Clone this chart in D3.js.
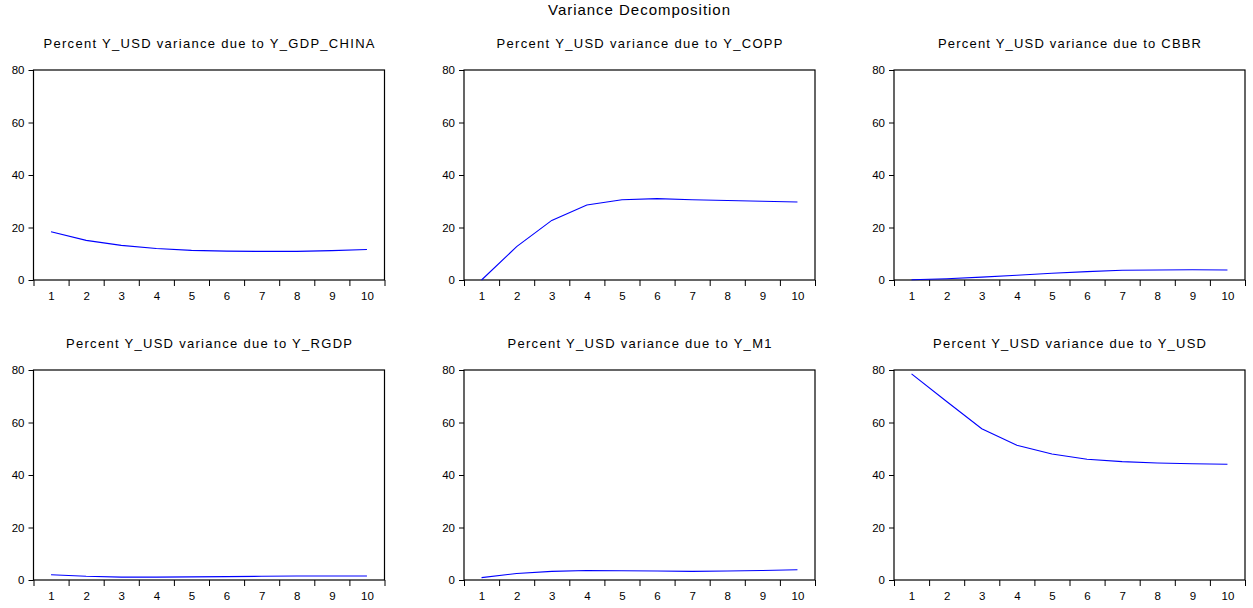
<!DOCTYPE html>
<html>
<head>
<meta charset="utf-8">
<script src="https://cdn.jsdelivr.net/npm/d3@7"></script>
<style>
  html, body { margin: 0; padding: 0; background: #fff; }
  svg { display: block; font-family: Arial, "Liberation Sans", sans-serif; }
</style>
</head>
<body>
<svg id="chart" width="1253" height="608"></svg>
<script>
// ---- data ----
const chartTitle = "Variance Decomposition";
const periods = [1, 2, 3, 4, 5, 6, 7, 8, 9, 10];
const yTicks = [0, 20, 40, 60, 80];
const panelTitles = [
  "Percent Y_USD variance due to Y_GDP_CHINA",
  "Percent Y_USD variance due to Y_COPP",
  "Percent Y_USD variance due to CBBR",
  "Percent Y_USD variance due to Y_RGDP",
  "Percent Y_USD variance due to Y_M1",
  "Percent Y_USD variance due to Y_USD"
];
const gdpChina = [18.4, 15.1, 13.2, 12.0, 11.3, 11.0, 10.9, 10.9, 11.2, 11.6];
const copp     = [0.0, 12.7, 22.7, 28.6, 30.6, 31.0, 30.6, 30.3, 30.0, 29.7];
const cbbr     = [0.1, 0.5, 1.1, 1.8, 2.6, 3.2, 3.7, 3.8, 3.9, 3.8];
const rgdp     = [2.0, 1.4, 1.1, 1.1, 1.2, 1.3, 1.4, 1.5, 1.5, 1.5];
const m1       = [0.9, 2.5, 3.3, 3.6, 3.5, 3.4, 3.3, 3.4, 3.6, 3.9];
const usd      = [78.5, 68.0, 57.6, 51.3, 48.0, 46.0, 45.1, 44.6, 44.3, 44.1];
const seriesList = [gdpChina, copp, cbbr, rgdp, m1, usd];
// measured title widths (px) to mimic the original spacing
const panelTitleWidths = [331, 286, 263, 286, 264, 273];

// ---- layout ----
const colLeft = [33.5, 464, 894];
const plotW = 351;
const rowTop = [70, 370];
const plotH = 210;

const svg = d3.select("#chart");

svg.append("text")
  .attr("x", 639).attr("y", 15)
  .attr("text-anchor", "middle")
  .attr("font-size", 15)
  .attr("fill", "#000")
  .attr("textLength", 182).attr("lengthAdjust", "spacing")
  .text(chartTitle);

seriesList.forEach((vals, i) => {
  const col = i % 3, row = Math.floor(i / 3);
  const x0 = colLeft[col], y0 = rowTop[row];
  const g = svg.append("g").attr("transform", `translate(${x0},${y0})`);

  const x = d3.scaleLinear().domain([0.5, 10.5]).range([0, plotW]);
  const y = d3.scaleLinear().domain([0, 80]).range([plotH, 0]);

  // panel title
  g.append("text")
    .attr("x", plotW / 2).attr("y", -22.5)
    .attr("text-anchor", "middle")
    .attr("font-size", 13)
    .attr("fill", "#000")
    .attr("textLength", panelTitleWidths[i]).attr("lengthAdjust", "spacing")
    .text(panelTitles[i]);

  // y axis
  const ya = g.append("g")
    .call(d3.axisLeft(y).tickValues(yTicks).tickSize(5).tickPadding(4).tickFormat(d3.format("d")));
  ya.select(".domain").remove();
  ya.selectAll("line").attr("stroke", "#000");
  ya.selectAll("text").attr("font-size", 11.5).attr("fill", "#000").attr("font-family", "Arial, 'Liberation Sans', sans-serif");

  // x axis tick marks at band edges
  const edges = d3.range(0, 11).map(k => k + 0.5);
  const xe = g.append("g").attr("transform", `translate(0,${plotH})`)
    .call(d3.axisBottom(x).tickValues(edges).tickSize(6).tickFormat(""));
  xe.select(".domain").remove();
  xe.selectAll("line").attr("stroke", "#000");

  // x labels at period centres
  const xl = g.append("g").attr("transform", `translate(0,${plotH})`)
    .call(d3.axisBottom(x).tickValues(periods).tickSize(0).tickPadding(12).tickFormat(d3.format("d")));
  xl.select(".domain").remove();
  xl.selectAll("text").attr("font-size", 11.5).attr("fill", "#000").attr("font-family", "Arial, 'Liberation Sans', sans-serif");

  // frame
  g.append("rect")
    .attr("x", 0).attr("y", 0).attr("width", plotW).attr("height", plotH)
    .attr("fill", "none").attr("stroke", "#000").attr("stroke-width", 1.2);

  // series line
  const line = d3.line().x((d, k) => x(periods[k])).y(d => y(d));
  g.append("path")
    .datum(vals)
    .attr("d", line)
    .attr("fill", "none")
    .attr("stroke", "#0000ff")
    .attr("stroke-width", 1.1);
});
</script>
</body>
</html>
